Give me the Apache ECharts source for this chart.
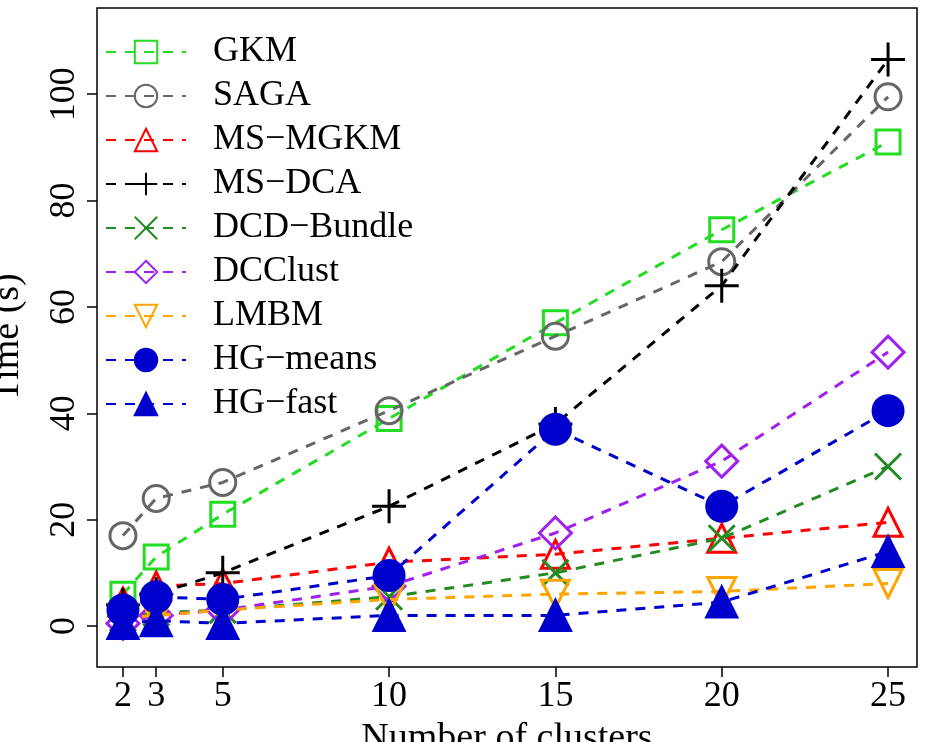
<!DOCTYPE html>
<html><head><meta charset="utf-8">
<script src="https://cdn.jsdelivr.net/npm/echarts@6/dist/echarts.min.js"></script>
<style>html,body{margin:0;padding:0;background:#fff}#c{width:927px;height:742px}</style>
</head><body><div id="c"></div>
<script>
const clusters = [2, 3, 5, 10, 15, 20, 25];
const xTicks = [2, 3, 5, 10, 15, 20, 25];
const yTicks = [0, 20, 40, 60, 80, 100];
const names = ['GKM','SAGA','MS\u2212MGKM','MS\u2212DCA','DCD\u2212Bundle','DCClust','LMBM','HG\u2212means','HG\u2212fast'];
const gkm = [6, 13, 21, 39, 57, 74.5, 91];
const saga = [17, 24, 27, 40.5, 54.5, 68.5, 99.5];
const msmgkm = [4.5, 7.5, 8, 12, 13.5, 16.5, 19.5];
const msdca = [4, 6, 10, 22.5, 38, 64, 106.5];
const dcdBundle = [1.5, 2.5, 3, 5.5, 10, 16.5, 30];
const dcclust = [0.5, 2, 3, 7.5, 17.5, 31, 51.5];
const lmbm = [1.5, 2, 3, 5, 6, 6.5, 8];
const hgMeans = [3, 5.5, 5, 9.5, 37, 22.5, 40.5];
const hgFast = [0.5, 1, 0.5, 2, 2, 4.5, 14];
const data = [gkm, saga, msmgkm, msdca, dcdBundle, dcclust, lmbm, hgMeans, hgFast];
const colors = ['#22dd22','#666666','#ff0000','#000000','#228b22','#a020f0','#ffa500','#0000cd','#0000cd'];
const symbols = ['rect','circle','triangle','path://M0,5 L10,5 M5,0 L5,10','path://M0,0 L10,10 M10,0 L0,10','diamond','triangle','circle','triangle'];
const rot = [0,0,0,0,0,0,180,0,0];
const filled = [false,false,false,false,false,false,false,true,true];
const sizes = [24,26,28,34,26,32,28,30,30];
const font = 'Liberation Serif';
const series = names.map((n,i)=>({
  name:n, type:'line', data: clusters.map((c,j)=>[c,data[i][j]]),
  symbol: symbols[i], symbolSize: sizes[i], symbolRotate: rot[i],
  lineStyle:{color:colors[i], width:3, type:[10,9]},
  itemStyle:{color: filled[i]?colors[i]:'none', borderColor:colors[i], borderWidth:3, opacity:1},
  z: 2+i
}));
const chart = echarts.init(document.getElementById('c'));
chart.setOption({
  animation:false,
  grid:{left:97, top:8, width:820, height:659, outerBoundsMode:'none', show:true, borderColor:'#000', borderWidth:1.5},
  legend:{left:100, top:29, orient:'vertical', itemGap:8, itemWidth:80, itemHeight:28,
    textStyle:{fontFamily:font, fontSize:36, color:'#000', padding:[0,0,0,22]},
    data:names},
  xAxis:{type:'value', min:1.22, max:25.87,
    axisLine:{show:false, onZero:false}, splitLine:{show:false},
    axisTick:{show:true, customValues:xTicks, length:10, lineStyle:{color:'#000',width:1.5}},
    axisLabel:{customValues:xTicks, fontFamily:font, fontSize:36, color:'#000', margin:12},
    name:'Number of clusters', nameLocation:'middle', nameGap:52,
    nameTextStyle:{fontFamily:font, fontSize:38, color:'#000'}},
  yAxis:{type:'value', min:-7.7, max:116.2,
    axisLine:{show:false, onZero:false}, splitLine:{show:false},
    axisTick:{show:true, customValues:yTicks, length:10, lineStyle:{color:'#000',width:1.5}},
    axisLabel:{customValues:yTicks, rotate:90, fontFamily:font, fontSize:36, color:'#000', margin:14},
    name:'Time (s)', nameLocation:'middle', nameGap:70, nameRotate:90,
    nameTextStyle:{fontFamily:font, fontSize:38, color:'#000'}},
  series
});
</script></body></html>
